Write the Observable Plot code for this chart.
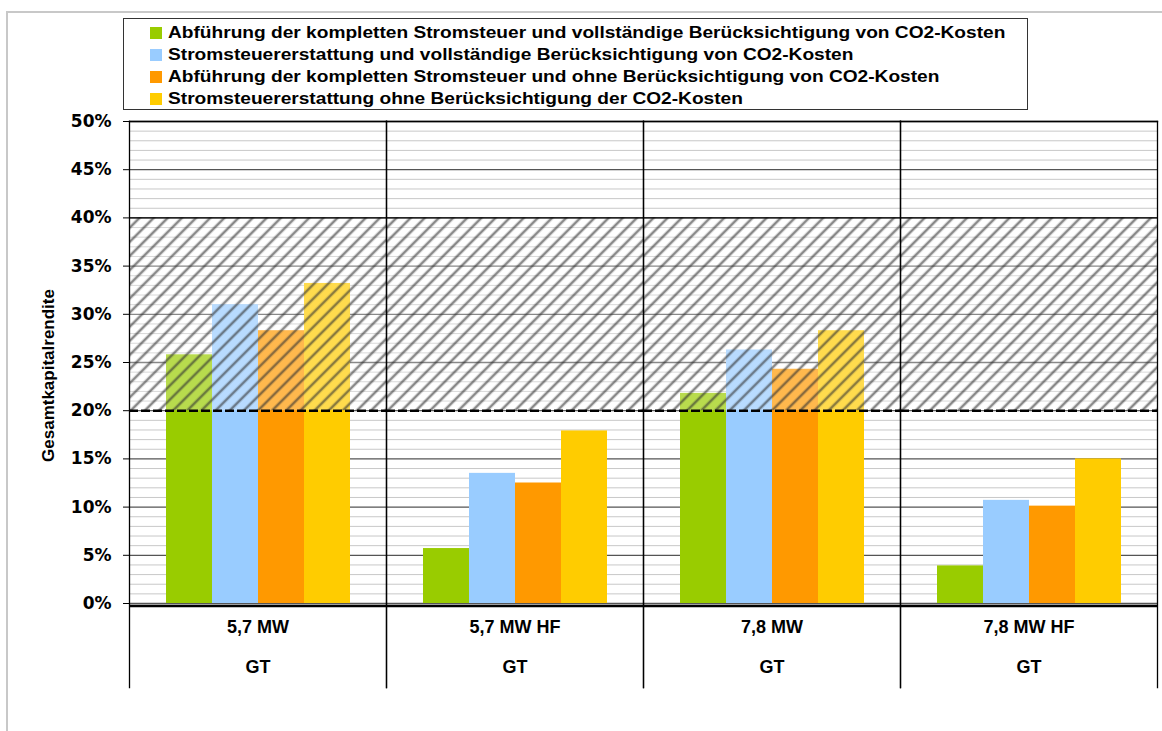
<!DOCTYPE html>
<html><head><meta charset="utf-8">
<script src="https://cdn.jsdelivr.net/npm/d3@7"></script>
<script src="https://cdn.jsdelivr.net/npm/@observablehq/plot@0.6"></script>
<style>
body{margin:0;background:#fff;font-family:"Liberation Sans",Arial,sans-serif;}
#wrap{position:relative;width:1162px;height:731px;overflow:hidden;background:#fff;}
#frame{position:absolute;left:6px;top:11px;width:1200px;height:800px;border-left:2px solid #c8c8c8;border-top:2px solid #c8c8c8;}
#chart{position:absolute;left:0;top:0;}
#legend{position:absolute;left:123px;top:18px;width:905px;height:92px;box-sizing:border-box;border:1.5px solid #333;background:#fff;font-weight:bold;font-size:17px;padding-top:2.5px;color:#000;}
.item{display:flex;align-items:center;padding-left:25.5px;height:22px;white-space:nowrap;}
.sw{width:12px;height:12px;margin-right:6px;flex:none;}
.tx{display:inline-block;transform:scaleX(1.125);transform-origin:left center;}
</style></head><body>
<div id="wrap"><div id="frame"></div><div id="chart"></div><div id="legend"></div></div>
<script>
const categories = ["5,7 MW", "5,7 MW HF", "7,8 MW", "7,8 MW HF"];
const subLabels = ["GT", "GT", "GT", "GT"];
const series = [
  "Abführung der kompletten Stromsteuer und vollständige Berücksichtigung von CO2-Kosten",
  "Stromsteuererstattung und vollständige Berücksichtigung von CO2-Kosten",
  "Abführung der kompletten Stromsteuer und ohne Berücksichtigung von CO2-Kosten",
  "Stromsteuererstattung ohne Berücksichtigung der CO2-Kosten"
];
const colors = ["#99cc00", "#99ccff", "#ff9900", "#ffcc00"];
const valuesGreen  = [0.258, 0.057, 0.218, 0.039];
const valuesBlue   = [0.310, 0.135, 0.263, 0.107];
const valuesOrange = [0.283, 0.125, 0.243, 0.101];
const valuesYellow = [0.332, 0.179, 0.283, 0.150];
const yTicks = [0, 0.05, 0.10, 0.15, 0.20, 0.25, 0.30, 0.35, 0.40, 0.45, 0.50];
const minorGrid = [0.01,0.02,0.03,0.04,0.06,0.07,0.08,0.09,0.11,0.12,0.13,0.14,0.16,0.17,0.18,0.19,0.21,0.22,0.23,0.24,0.26,0.27,0.28,0.29,0.31,0.32,0.33,0.34,0.36,0.37,0.38,0.39,0.41,0.42,0.43,0.44,0.46,0.47,0.48,0.49];
const hatchBand = [0.20, 0.40];
const yTitle = "Gesamtkapitalrendite";

const allValues = [valuesGreen, valuesBlue, valuesOrange, valuesYellow];
const data = [];
categories.forEach((c, i) => series.forEach((s, j) => data.push({cat: c, series: s, value: allValues[j][i]})));

// legend
const leg = document.getElementById("legend");
series.forEach((s, j) => {
  const it = document.createElement("div"); it.className = "item";
  const sw = document.createElement("span"); sw.className = "sw"; sw.style.background = colors[j];
  const tx = document.createElement("span"); tx.className = "tx"; tx.textContent = s;
  it.appendChild(sw); it.appendChild(tx); leg.appendChild(it);
});

const chart = Plot.plot({
  width: 1162, height: 731,
  marginTop: 121, marginBottom: 128, marginLeft: 128, marginRight: 5,
  style: {fontFamily: "Liberation Sans, Arial, sans-serif", fontWeight: "bold", fontSize: "17px", color: "#000", background: "transparent"},
  fx: {domain: categories, padding: 0, axis: null},
  x: {domain: series, paddingInner: 0, paddingOuter: 0.735, axis: null},
  y: {domain: [0, 0.5], axis: null},
  color: {domain: series, range: colors},
  marks: [
    Plot.ruleY(minorGrid, {stroke: "#c8c8c8", strokeWidth: 1}),
    Plot.ruleY(yTicks, {stroke: "#555", strokeWidth: 1.3}),
    Plot.barY(data, {fx: "cat", x: "series", y: "value", fill: "series"}),
    Plot.rect([hatchBand], {y1: d => d[0], y2: d => d[1], fill: "url(#hatch)"}),
    Plot.ruleY([hatchBand[0]], {stroke: "#000", strokeWidth: 2.5, strokeDasharray: "9,3"}),
    Plot.ruleY([hatchBand[1]], {stroke: "#000", strokeWidth: 1.3}),
    Plot.ruleY([0], {stroke: "#000", strokeWidth: 2.5, dy: 2.5}),
    Plot.frame({anchor: "left", insetBottom: -84, stroke: "#000", strokeWidth: 1.3}),
    Plot.frame({anchor: "right", insetBottom: -84, stroke: "#000", strokeWidth: 1.3}),
    Plot.frame({anchor: "top", stroke: "#000", strokeWidth: 1.3}),
    Plot.axisY(yTicks, {tickFormat: d3.format(".0%"), tickSize: 6, tickPadding: 12, fontSize: 17, fontWeight: "bold",
      fontFamily: "DejaVu Sans, sans-serif", label: null}),
    Plot.text([yTitle], {fx: () => categories[0], text: d => d, frameAnchor: "left", textAnchor: "middle", rotate: -90, dx: -81, dy: 13,
      fontSize: 17, fontWeight: "bold"}),
    Plot.text(categories, {fx: d => d, text: d => d, frameAnchor: "bottom", dy: 29.5, fontSize: 18, fontWeight: "bold"}),
    Plot.text(subLabels, {fx: (d, i) => categories[i], text: d => d, frameAnchor: "bottom", dy: 69, fontSize: 18, fontWeight: "bold"})
  ]
});

const svg = chart.tagName.toLowerCase() === "svg" ? chart : chart.querySelector("svg");
const ns = "http://www.w3.org/2000/svg";
const defs = document.createElementNS(ns, "defs");
defs.innerHTML = `<pattern id="hatch" patternUnits="userSpaceOnUse" width="10" height="10" patternTransform="rotate(45)">
  <rect x="0" y="0" width="10" height="10" fill="#fff" fill-opacity="0.3"></rect>
  <line x1="2" y1="0" x2="2" y2="10" stroke="#333" stroke-width="2.6" stroke-opacity="0.58"></line>
</pattern>`;
svg.insertBefore(defs, svg.firstChild);
document.getElementById("chart").appendChild(chart);
</script>
</body></html>
